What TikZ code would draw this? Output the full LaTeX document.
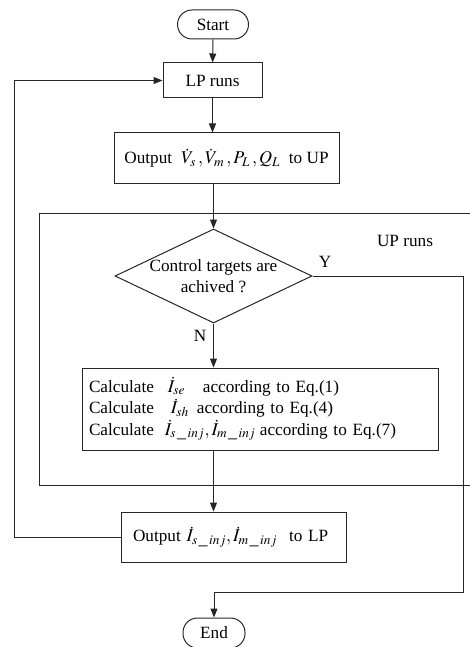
\documentclass[tikz,border=0pt]{standalone}
\usepackage{mathptmx}
\usepackage[no-math]{fontspec}
\setmainfont{Liberation Serif}
\usetikzlibrary{arrows.meta,shapes.geometric}
\newcommand{\mth}[1]{{\fontsize{18}{21}\selectfont$#1$}}
\newcommand{\us}{\mkern2mu\_\mkern2mu}
\tikzset{
  ln/.style={draw=black!85, line width=1pt},
  arr/.style={ln, -{Triangle[length=9pt,width=7pt]}},
  box/.style={ln, rectangle, inner sep=0pt},
  term/.style={ln, rectangle, rounded corners=14.5pt, inner sep=0pt},
  lbl/.style={inner sep=0pt}
}
\begin{document}
\begin{tikzpicture}[x=1pt,y=-1pt,font=\fontsize{17.2}{21.5}\selectfont]
\useasboundingbox (0,0) rectangle (470,647);
% nodes
\node[term, minimum width=71pt, minimum height=29pt] (start) at (213,24.5) {Start};
\node[box, minimum width=99pt, minimum height=35pt] (lp) at (212.5,80.5) {LP runs};
\node[box, minimum width=225pt, minimum height=50pt] (out1) at (226.5,158) {Output\hspace{9pt}\mth{\dot V_s\,,\dot V_m\,,P_L\,,Q_L}\hspace{9pt}to UP};
\node[ln, rectangle, inner sep=0pt] (up) at (257,349) [minimum width=436pt, minimum height=272pt] {};
\node[lbl] (uplbl) at (405,241) {UP runs};
\node[ln, diamond, minimum width=197pt, minimum height=94pt, inner sep=0pt] (dec) at (213.5,276) {};
\node[lbl, align=center] (dectxt) at (213.5,276) {Control targets are\\achived ?};
\node[lbl] (ylbl) at (325,262) {Y};
\node[lbl] (nlbl) at (200,336) {N};
\node[ln, rectangle, inner xsep=7pt, inner ysep=0pt, text width=342pt, align=left, minimum height=82pt] (calc) at (260,409) {%
Calculate\makebox[49pt][l]{\hspace{14pt}\mth{\dot I_{se}}}according to Eq.(1)\\
Calculate\makebox[43pt][l]{\hspace{17pt}\mth{\dot I_{sh}}}according to Eq.(4)\\
Calculate\makebox[106pt][l]{\hspace{11pt}\mth{\dot I_{s\us inj},\dot I_{m\us inj}}}according to Eq.(7)};
\node[ln, rectangle, inner xsep=12pt, inner ysep=0pt, text width=201pt, align=left, minimum height=50pt] (out2) at (233.5,537) {\mbox{Output \mth{\dot I_{s\us inj},\dot I_{m\us inj}}\hspace{12pt}to LP}};
\node[term, minimum width=62pt, minimum height=30pt] (end) at (214,633) {End};
\coordinate (yr) at (463,592);
\coordinate (lc) at (14,537);
% connectors
\draw[arr] (start) -- (lp);
\draw[arr] (lp.south) -- (lp.south |- out1.north);
\draw[arr] (dec.north |- out1.south) -- (dec.north);
\draw[arr] (dec.south) -- (dec.south |- calc.north);
\draw[arr] (dec.south |- calc.south) -- (dec.south |- out2.north);
\draw[arr] (out2.west) -- (lc) |- (lp.west);
\draw[arr] (dec.east) -| (yr) -| (end.north);
\end{tikzpicture}
\end{document}
